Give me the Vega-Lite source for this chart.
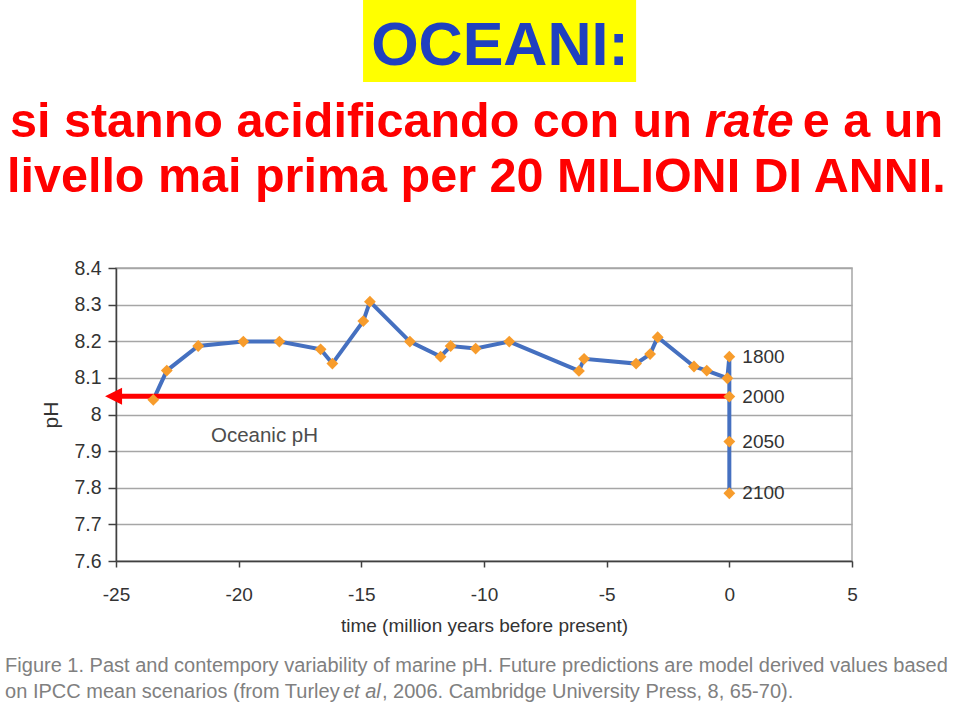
{
  "$schema": "https://vega.github.io/schema/vega-lite/v6.json",
  "width": 736,
  "height": 293,
  "autosize": {"type": "none"},
  "padding": {"left": 116, "top": 268, "right": 107, "bottom": 155},
  "background": "white",
  "config": {
    "view": {"stroke": "#a6a6a6", "strokeWidth": 1.5},
    "font": "Liberation Sans",
    "axisY": {"tickCount": 20, "labelOverlap": false},
    "axisX": {"tickCount": 20, "labelFlush": false, "labelOverlap": false}
  },
  "datasets": {
    "ph": [
      {"i": 1, "t": -23.48, "ph": 8.040},
      {"i": 2, "t": -22.93, "ph": 8.120},
      {"i": 3, "t": -21.65, "ph": 8.187},
      {"i": 4, "t": -19.81, "ph": 8.199},
      {"i": 5, "t": -18.34, "ph": 8.199},
      {"i": 6, "t": -16.66, "ph": 8.178},
      {"i": 7, "t": -16.18, "ph": 8.139},
      {"i": 8, "t": -14.92, "ph": 8.255},
      {"i": 9, "t": -14.65, "ph": 8.308},
      {"i": 10, "t": -13.02, "ph": 8.199},
      {"i": 11, "t": -11.77, "ph": 8.158},
      {"i": 12, "t": -11.36, "ph": 8.187},
      {"i": 13, "t": -10.34, "ph": 8.180},
      {"i": 14, "t": -8.97, "ph": 8.199},
      {"i": 15, "t": -6.13, "ph": 8.119},
      {"i": 16, "t": -5.92, "ph": 8.152},
      {"i": 17, "t": -3.80, "ph": 8.139},
      {"i": 18, "t": -3.23, "ph": 8.165},
      {"i": 19, "t": -2.92, "ph": 8.211},
      {"i": 20, "t": -1.44, "ph": 8.131},
      {"i": 21, "t": -0.92, "ph": 8.120},
      {"i": 22, "t": -0.08, "ph": 8.099},
      {"i": 23, "t": 0, "ph": 8.158, "label": "1800"},
      {"i": 24, "t": 0, "ph": 8.049, "label": "2000"},
      {"i": 25, "t": 0, "ph": 7.926, "label": "2050"},
      {"i": 26, "t": 0, "ph": 7.785, "label": "2100"}
    ],
    "level": [{"t": -25.1, "t2": 0, "ph": 8.05}]
  },
  "layer": [
    {
      "data": {"name": "ph"},
      "mark": {"type": "line", "color": "#4570c0", "strokeWidth": 4},
      "encoding": {
        "x": {
          "field": "t", "type": "quantitative",
          "scale": {"domain": [-25, 5], "nice": false, "zero": false},
          "axis": {
            "values": [-25, -20, -15, -10, -5, 0, 5],
            "tickCount": 20,
            "labelExpr": "'' + datum.value",
            "grid": false,
            "labelFlush": false,
            "domainColor": "#404040", "domainWidth": 1.5,
            "tickColor": "#404040", "tickWidth": 1.5, "tickSize": 6,
            "labelFont": "Liberation Sans", "labelFontSize": 19, "labelColor": "#333333", "labelPadding": 18,
            "title": "time (million years before present)",
            "titleFont": "Liberation Sans", "titleFontSize": 19, "titleFontWeight": "normal", "titleColor": "#333333", "titlePadding": 12
          }
        },
        "y": {
          "field": "ph", "type": "quantitative",
          "scale": {"domain": [7.6, 8.4], "nice": false, "zero": false},
          "axis": {
            "values": [7.6, 7.7, 7.8, 7.9, 8, 8.1, 8.2, 8.3, 8.4],
            "tickCount": 20,
            "labelOverlap": false,
            "labelExpr": "'' + datum.value",
            "grid": true, "gridColor": "#a6a6a6", "gridWidth": 1.5,
            "domainColor": "#404040", "domainWidth": 1.5,
            "tickColor": "#404040", "tickWidth": 1.5, "tickSize": 8,
            "labelFont": "Liberation Sans", "labelFontSize": 19.5, "labelColor": "#333333", "labelPadding": 7,
            "title": "pH",
            "titleFont": "Liberation Sans", "titleFontSize": 21, "titleFontWeight": "normal", "titleColor": "#333333", "titlePadding": 12
          }
        },
        "order": {"field": "i"}
      }
    },
    {
      "data": {"name": "level"},
      "mark": {"type": "rule", "color": "#ff0000", "strokeWidth": 5},
      "encoding": {
        "x": {"field": "t", "type": "quantitative"},
        "x2": {"field": "t2"},
        "y": {"field": "ph", "type": "quantitative"}
      }
    },
    {
      "data": {"name": "ph"},
      "mark": {"type": "point", "shape": "diamond", "filled": true, "size": 140, "color": "#f79c2c", "opacity": 1},
      "encoding": {
        "x": {"field": "t", "type": "quantitative"},
        "y": {"field": "ph", "type": "quantitative"}
      }
    },
    {
      "data": {"name": "level"},
      "mark": {"type": "point", "shape": "M-1,0L1,-1L1,1Z", "filled": true, "size": 289, "color": "#ff0000", "opacity": 1},
      "encoding": {
        "x": {"field": "t", "type": "quantitative"},
        "y": {"field": "ph", "type": "quantitative"}
      }
    },
    {
      "data": {"name": "ph"},
      "transform": [{"filter": "datum.label != null"}],
      "mark": {"type": "text", "align": "left", "baseline": "middle", "dx": 13, "fontSize": 19, "color": "#333333", "font": "Liberation Sans"},
      "encoding": {
        "x": {"field": "t", "type": "quantitative"},
        "y": {"field": "ph", "type": "quantitative"},
        "text": {"field": "label"}
      }
    },
    {
      "data": {"values": [{}]},
      "mark": {"type": "text", "align": "left", "baseline": "alphabetic", "fontSize": 20.5, "color": "#4d4d4d", "font": "Liberation Sans", "text": "Oceanic pH"},
      "encoding": {
        "x": {"datum": -21.13, "type": "quantitative"},
        "y": {"datum": 7.925, "type": "quantitative"}
      }
    },
    {
      "data": {"values": [{}]},
      "mark": {"type": "rect", "color": "#ffff00", "opacity": 1},
      "encoding": {
        "x": {"datum": -14.93, "type": "quantitative"},
        "x2": {"datum": -3.80},
        "y": {"datum": 9.132, "type": "quantitative"},
        "y2": {"datum": 8.908}
      }
    },
    {
      "data": {"values": [{}]},
      "mark": {"type": "text", "align": "center", "baseline": "alphabetic", "fontSize": 61, "fontWeight": "bold", "color": "#1f40c0", "font": "Liberation Sans", "text": "OCEANI:"},
      "encoding": {
        "x": {"datum": -9.35, "type": "quantitative"},
        "y": {"datum": 8.954, "type": "quantitative"}
      }
    },
    {
      "data": {"values": [{}]},
      "mark": {"type": "text", "align": "left", "baseline": "alphabetic", "fontSize": 48.5, "fontWeight": "bold", "color": "#ff0000", "font": "Liberation Sans", "text": "si stanno acidificando con un"},
      "encoding": {
        "x": {"datum": -29.32, "type": "quantitative"},
        "y": {"datum": 8.758, "type": "quantitative"}
      }
    },
    {
      "data": {"values": [{}]},
      "mark": {"type": "text", "align": "left", "baseline": "alphabetic", "fontSize": 48.5, "fontWeight": "bold", "fontStyle": "italic", "color": "#ff0000", "font": "Liberation Sans", "text": "rate"},
      "encoding": {
        "x": {"datum": -1.0, "type": "quantitative"},
        "y": {"datum": 8.758, "type": "quantitative"}
      }
    },
    {
      "data": {"values": [{}]},
      "mark": {"type": "text", "align": "right", "baseline": "alphabetic", "fontSize": 48.5, "fontWeight": "bold", "color": "#ff0000", "font": "Liberation Sans", "text": "e a un"},
      "encoding": {
        "x": {"datum": 8.71, "type": "quantitative"},
        "y": {"datum": 8.758, "type": "quantitative"}
      }
    },
    {
      "data": {"values": [{}]},
      "mark": {"type": "text", "align": "center", "baseline": "alphabetic", "fontSize": 48.5, "fontWeight": "bold", "color": "#ff0000", "font": "Liberation Sans", "text": "livello mai prima per 20 MILIONI DI ANNI."},
      "encoding": {
        "x": {"datum": -10.31, "type": "quantitative"},
        "y": {"datum": 8.6075, "type": "quantitative"}
      }
    },
    {
      "data": {"values": [{}]},
      "mark": {"type": "text", "align": "left", "baseline": "alphabetic", "fontSize": 20, "color": "#808080", "font": "Liberation Sans", "text": "Figure 1. Past and contempory variability of marine pH. Future predictions are model derived values based"},
      "encoding": {
        "x": {"datum": -29.52, "type": "quantitative"},
        "y": {"datum": 7.2969, "type": "quantitative"}
      }
    },
    {
      "data": {"values": [{}]},
      "mark": {"type": "text", "align": "left", "baseline": "alphabetic", "fontSize": 20, "color": "#808080", "font": "Liberation Sans", "text": "on IPCC mean scenarios (from Turley"},
      "encoding": {
        "x": {"datum": -29.52, "type": "quantitative"},
        "y": {"datum": 7.2259, "type": "quantitative"}
      }
    },
    {
      "data": {"values": [{}]},
      "mark": {"type": "text", "align": "left", "baseline": "alphabetic", "fontSize": 20, "fontStyle": "italic", "color": "#808080", "font": "Liberation Sans", "text": "et al"},
      "encoding": {
        "x": {"datum": -15.75, "type": "quantitative"},
        "y": {"datum": 7.2259, "type": "quantitative"}
      }
    },
    {
      "data": {"values": [{}]},
      "mark": {"type": "text", "align": "left", "baseline": "alphabetic", "fontSize": 20, "color": "#808080", "font": "Liberation Sans", "text": ", 2006. Cambridge University Press, 8, 65-70)."},
      "encoding": {
        "x": {"datum": -14.16, "type": "quantitative"},
        "y": {"datum": 7.2259, "type": "quantitative"}
      }
    }
  ]
}
